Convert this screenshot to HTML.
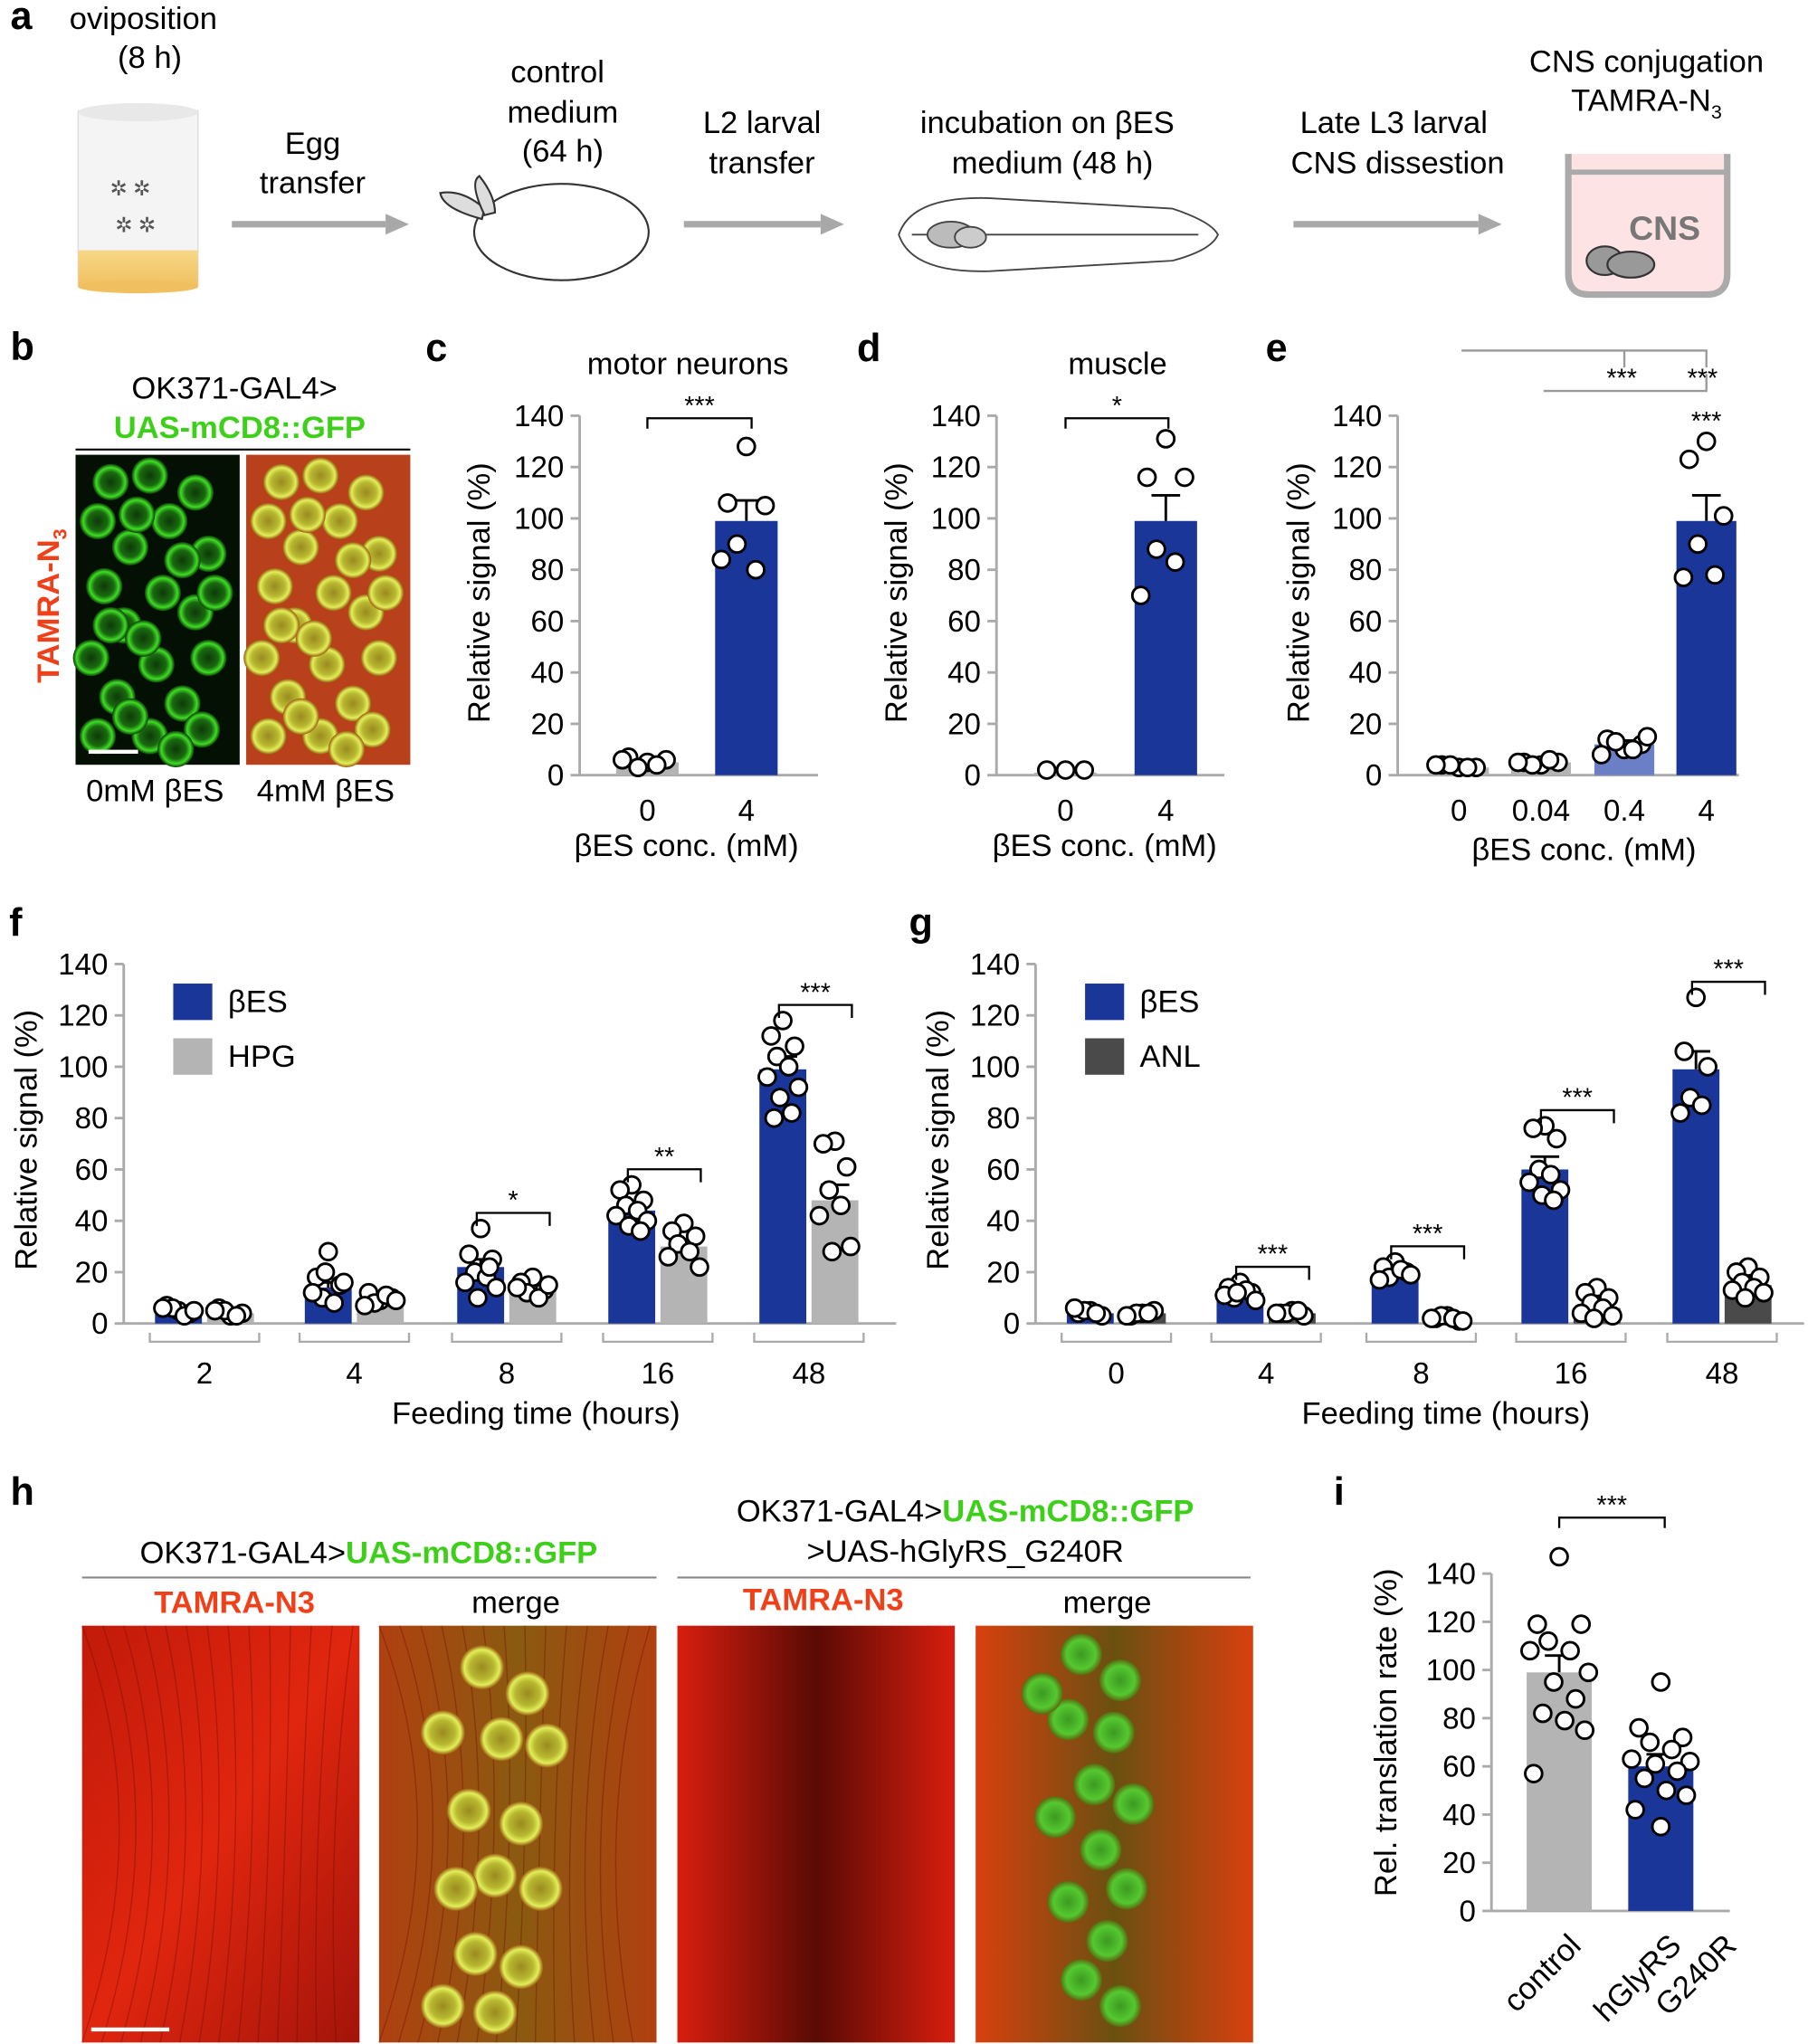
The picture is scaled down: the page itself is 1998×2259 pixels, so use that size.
<!DOCTYPE html>
<html><head><meta charset="utf-8">
<style>
html,body{margin:0;padding:0;background:#fff;}
svg{display:block;font-family:"Liberation Sans",sans-serif;}
</style></head>
<body>
<svg id="fig" width="1998" height="2259" viewBox="0 0 1388 1569" xmlns="http://www.w3.org/2000/svg">
<defs>
<radialGradient id="gcell" cx="50%" cy="50%" r="50%"><stop offset="0" stop-color="#0d3a08"/><stop offset="0.55" stop-color="#1a6a10"/><stop offset="0.8" stop-color="#3fdc25"/><stop offset="1" stop-color="#0a3a05"/></radialGradient>
<radialGradient id="ycell" cx="50%" cy="50%" r="50%"><stop offset="0" stop-color="#9a8a20"/><stop offset="0.55" stop-color="#b8b830"/><stop offset="0.8" stop-color="#e2ee5a"/><stop offset="1" stop-color="#9a5a10"/></radialGradient>
<radialGradient id="gcell2" cx="50%" cy="50%" r="50%"><stop offset="0" stop-color="#3c9a20"/><stop offset="0.7" stop-color="#55c830"/><stop offset="1" stop-color="#5a6a10"/></radialGradient>
<linearGradient id="redbg" x1="0" y1="0" x2="1" y2="1"><stop offset="0" stop-color="#c21a0a"/><stop offset="0.5" stop-color="#e0260f"/><stop offset="1" stop-color="#a3140a"/></linearGradient>
<linearGradient id="redbg2" x1="0" y1="0" x2="1" y2="0"><stop offset="0" stop-color="#d81e0e"/><stop offset="0.5" stop-color="#5a0a05"/><stop offset="1" stop-color="#d81e0e"/></linearGradient>
<linearGradient id="mergebg" x1="0" y1="0" x2="1" y2="0"><stop offset="0" stop-color="#b04010"/><stop offset="0.5" stop-color="#8a5a10"/><stop offset="1" stop-color="#b04010"/></linearGradient>
<linearGradient id="mergebg2" x1="0" y1="0" x2="1" y2="0"><stop offset="0" stop-color="#d8400f"/><stop offset="0.5" stop-color="#6a5010"/><stop offset="1" stop-color="#d8400f"/></linearGradient>
<linearGradient id="food" x1="0" y1="0" x2="0" y2="1"><stop offset="0" stop-color="#f7d887"/><stop offset="1" stop-color="#f0c060"/></linearGradient>
</defs>

<g font-size="24" text-anchor="middle" fill="#000">
  <text x="8" y="22" font-size="30" font-weight="bold" text-anchor="start">a</text>
  <text x="110" y="22">oviposition</text>
  <text x="115" y="52">(8 h)</text>
  <g>
    <rect x="60" y="85" width="92" height="135" fill="#f4f4f4" stroke="#ddd"/>
    <ellipse cx="106" cy="86" rx="46" ry="7" fill="#e8e8e8"/>
    <rect x="60" y="192" width="92" height="28" fill="url(#food)"/>
    <ellipse cx="106" cy="220" rx="46" ry="5" fill="#f0c060"/>
    <text x="100" y="150" font-size="16" fill="#555">✲ ✲</text><text x="104" y="178" font-size="16" fill="#555">✲ ✲</text>
  </g>
  <text x="240" y="118">Egg</text>
  <text x="240" y="148">transfer</text>
  <g><line x1="178" y1="172" x2="296" y2="172" stroke="#a8a8a8" stroke-width="5"/><polygon points="296,164 314,172 296,180" fill="#a8a8a8"/></g>
  <text x="428" y="63">control</text>
  <text x="432" y="94">medium</text>
  <text x="432" y="124">(64 h)</text>
  <g fill="#fff" stroke="#333" stroke-width="1.5">
    <ellipse cx="431" cy="178" rx="67" ry="37"/>
    <path d="M370 168 Q340 160 338 148 Q355 145 372 160 Z" fill="#ddd"/>
    <path d="M372 165 Q360 140 368 135 Q380 150 380 163Z" fill="#ddd"/>
  </g>
  <text x="585" y="102">L2 larval</text>
  <text x="585" y="133">transfer</text>
  <g><line x1="525" y1="172" x2="630" y2="172" stroke="#a8a8a8" stroke-width="5"/><polygon points="630,164 648,172 630,180" fill="#a8a8a8"/></g>
  <text x="804" y="102">incubation on βES</text>
  <text x="808" y="133">medium (48 h)</text>
  <g stroke="#444" fill="#fff" stroke-width="1.3">
    <path d="M690 180 Q700 150 760 152 L900 160 Q930 170 935 180 Q930 192 900 200 L760 208 Q700 210 690 180Z"/>
    <path d="M700 180 L920 180" fill="none"/>
    <ellipse cx="730" cy="180" rx="18" ry="10" fill="#bbb"/>
    <ellipse cx="745" cy="182" rx="12" ry="8" fill="#ccc"/>
  </g>
  <text x="1070" y="102">Late L3 larval</text>
  <text x="1073" y="133">CNS dissestion</text>
  <g><line x1="993" y1="172" x2="1135" y2="172" stroke="#a8a8a8" stroke-width="5"/><polygon points="1135,164 1153,172 1135,180" fill="#a8a8a8"/></g>
  <text x="1264" y="55">CNS conjugation</text>
  <text x="1264" y="85">TAMRA-N<tspan font-size="15" dy="6">3</tspan></text>
  <g>
    <path d="M1204 118 L1204 210 Q1204 226 1220 226 L1310 226 Q1326 226 1326 210 L1326 118" fill="#fde3e3" stroke="#aaa" stroke-width="5"/>
    <line x1="1204" y1="132" x2="1326" y2="132" stroke="#aaa" stroke-width="4"/>
    <text x="1278" y="184" font-size="26" font-weight="bold" fill="#777">CNS</text>
    <ellipse cx="1232" cy="200" rx="14" ry="11" fill="#999" stroke="#333" stroke-width="1.5"/>
    <ellipse cx="1252" cy="203" rx="18" ry="10" fill="#999" stroke="#333" stroke-width="1.5"/>
  </g>
</g>

<g font-size="24" text-anchor="middle">
  <text x="8" y="276" font-size="30" font-weight="bold" text-anchor="start">b</text>
  <text x="180" y="306">OK371-GAL4&gt;</text>
  <text x="184" y="336" fill="#3ecf1a" font-weight="bold">UAS-mCD8::GFP</text>
  <line x1="58" y1="345" x2="315" y2="345" stroke="#000" stroke-width="1.5"/>
  <text transform="translate(45,465) rotate(-90)" fill="#f0401a" font-weight="bold">TAMRA-N<tspan font-size="15" dy="6">3</tspan></text>
  <rect x="58" y="349" width="126" height="238" fill="#041004"/>
  <g id="bcells1"></g>
  <rect x="189" y="349" width="126" height="238" fill="#b8401a"/>
  <g id="bcells2"></g>
  <line x1="68" y1="577" x2="106" y2="577" stroke="#fff" stroke-width="3"/>
  <text x="119" y="615">0mM βES</text>
  <text x="250" y="615">4mM βES</text>
</g>

<g font-size="24" text-anchor="middle">
  <text x="8" y="1155" font-size="30" font-weight="bold" text-anchor="start">h</text>
  <text x="283" y="1200">OK371-GAL4&gt;<tspan fill="#3ecf1a" font-weight="bold">UAS-mCD8::GFP</tspan></text>
  <line x1="63" y1="1211" x2="504" y2="1211" stroke="#888" stroke-width="1.5"/>
  <text x="741" y="1168">OK371-GAL4&gt;<tspan fill="#3ecf1a" font-weight="bold">UAS-mCD8::GFP</tspan></text>
  <text x="741" y="1199">&gt;UAS-hGlyRS_G240R</text>
  <line x1="520" y1="1211" x2="960" y2="1211" stroke="#888" stroke-width="1.5"/>
  <text x="180" y="1238" fill="#f0401a" font-weight="bold">TAMRA-N3</text>
  <text x="396" y="1238">merge</text>
  <text x="632" y="1236" fill="#f0401a" font-weight="bold">TAMRA-N3</text>
  <text x="850" y="1238">merge</text>
  <rect x="63" y="1248" width="213" height="320" fill="url(#redbg)"/>
  <rect x="291" y="1248" width="213" height="320" fill="url(#mergebg)"/>
  <rect x="520" y="1248" width="213" height="320" fill="url(#redbg2)"/>
  <rect x="749" y="1248" width="213" height="320" fill="url(#mergebg2)"/>
  <g id="htex" stroke="#6a0a05" stroke-width="1" opacity="0.35" fill="none"></g>
  <g id="hcells"></g>
  <line x1="70" y1="1558" x2="130" y2="1558" stroke="#fff" stroke-width="3"/>
</g>

<g id="charts"></g>
</svg>

<script>
const cCats = ["0","4"];
const cMeans = [5, 99];
const cSems = [1, 8];
const cPts = [[5,7,6,3,4,6],[128,106,105,90,80,84]];

const dCats = ["0","4"];
const dMeans = [1, 99];
const dSems = [0.5, 10];
const dPts = [[2,2,2],[131,116,116,88,83,70]];

const eCats = ["0","0.04","0.4","4"];
const eMeans = [3, 5, 12, 99];
const eSems = [0.5, 0.6, 1.5, 10];
const ePts = [[3,4,3,4,3,4],[4,5,5,4,6,5],[10,14,12,13,10,8,15],[130,123,101,90,78,77]];

const fCats = ["2","4","8","16","48"];
const fBes = [4, 14, 22, 44, 99];
const fBesSem = [0.8, 2, 3, 3, 5];
const fHpg = [4, 9, 14, 30, 48];
const fHpgSem = [0.6, 0.8, 1.5, 2.5, 6];
const fBesPts = [[5,7,4,6,3,6,5],[28,18,15,10,8,12,16,20],[37,27,25,20,18,16,14,10,22],[54,52,48,46,44,42,40,38,36],[118,112,108,104,100,96,92,88,82,80]];
const fHpgPts = [[3,6,4,5,3,5],[9,12,10,8,11,7,9],[18,16,13,12,10,14,15],[39,36,34,31,28,26,22],[71,70,61,52,46,42,30,28]];

const gCats = ["0","4","8","16","48"];
const gBes = [4, 12, 19, 60, 99];
const gBesSem = [0.6, 1.2, 1.5, 5, 7];
const gAnl = [4, 4, 2, 6, 15];
const gAnlSem = [0.4, 0.4, 0.3, 1.2, 1.5];
const gBesPts = [[5,4,3,5,4,6],[16,14,12,10,13,11,9,12],[24,22,20,18,21,17,19],[77,76,72,60,58,55,52,50,48],[127,106,100,88,85,82]];
const gAnlPts = [[4,3,5,4,4,3],[5,4,3,4,5,4],[3,2,1,3,2,2,1],[14,12,10,8,6,4,3,2],[22,20,18,16,14,13,12,10]];

const iCats = ["control","hGlyRS G240R"];
const iMeans = [99, 60];
const iSems = [7, 5];
const iPts = [[147,119,119,112,108,108,99,95,88,82,79,75,57],[95,76,72,70,67,63,62,61,58,55,50,48,42,35]];

const yTicks = [0,20,40,60,80,100,120,140];

const NS = "http://www.w3.org/2000/svg";
const root = document.getElementById("charts");
function el(tag, attrs, parent, text){
  const e = document.createElementNS(NS, tag);
  for (const k in attrs) e.setAttribute(k, attrs[k]);
  if (text !== undefined) e.textContent = text;
  (parent || root).appendChild(e);
  return e;
}
const BLUE="#1b3699", GRAY="#b4b4b4", LBLUE="#6a7fc6", DGRAY="#4a4a4a";

function makeAxis(g, ax, y0, y140, xEnd, name){
  const ys = v => y0 - v*(y0-y140)/140;
  const yAx = el("line",{x1:ax,y1:y140,x2:ax,y2:y0,stroke:"#aaa","stroke-width":2},g);
  
  
  const xAx = el("line",{x1:ax,y1:y0,x2:xEnd,y2:y0,stroke:"#aaa","stroke-width":2},g);
  
  
  yTicks.forEach(t=>{
    el("line",{x1:ax-7,y1:ys(t),x2:ax,y2:ys(t),stroke:"#aaa","stroke-width":2},g);
    const tl = el("text",{x:ax-12,y:ys(t)+8,"font-size":23,"text-anchor":"end"},g,String(t));
    
    
  });
  return ys;
}
function bar(g, cx, w, v, ys, color, name){
  const r = el("rect",{x:cx-w/2,y:ys(v),width:w,height:ys(0)-ys(v),fill:color},g);
  
  
}
function err(g, cx, v, s, ys){
  const e = el("path",{d:`M${cx} ${ys(v)} V${ys(v+s)} M${cx-11} ${ys(v+s)} H${cx+11}`,stroke:"#000","stroke-width":2,fill:"none"},g);
  
  
}
const jit = [0,-12,12,-6,6,-16,16,-3,9,-9,3,14,-14,0];
function pts(g, cx, arr, ys, spread){
  arr.forEach((v,i)=>{
    const c = el("circle",{cx:cx+jit[i%jit.length]*spread,cy:ys(v),r:6.5,fill:"#fff",stroke:"#000","stroke-width":2},g);
    
    
  });
}
function sig(g, x1, x2, y, label, drop){
  const p = el("path",{d:`M${x1} ${y+drop} V${y} H${x2} V${y+drop}`,stroke:"#000","stroke-width":1.6,fill:"none"},g);
  
  
  const t = el("text",{x:(x1+x2)/2,y:y-3,"font-size":20,"text-anchor":"middle"},g,label);
  
  
}
function txt(g, x, y, s, size, name, extra){
  const a = Object.assign({x:x,y:y,"font-size":size,"text-anchor":"middle"}, extra||{});
  const t = el("text",a,g,s);
  
  
  return t;
}
function yTitle(g, x, y, s, name){
  const t = el("text",{transform:`translate(${x},${y}) rotate(-90)`,"font-size":24,"text-anchor":"middle"},g,s);
  
  
}

(function(){
  const g = el("g",{});
  
  
  txt(g, 335, 277, "c", 30, "panel-label-c", {"font-weight":"bold"});
  txt(g, 528, 287, "motor neurons", 24, "panel-c-title");
  const ys = makeAxis(g, 445, 595, 319, 628, "panel-c");
  const xs = [497, 573];
  cCats.forEach((c,i)=>{
    bar(g, xs[i], 48, cMeans[i], ys, i===0?GRAY:BLUE, "bar-c-"+c);
    err(g, xs[i], cMeans[i], cSems[i], ys);
    pts(g, xs[i], cPts[i], ys, 1.2);
    txt(g, xs[i], 630, c, 23, "panel-c-x-tick-label");
  });
  sig(g, 497, 577, ys(139), "***", 8);
  yTitle(g, 376, 455, "Relative signal (%)", "panel-c-y-title");
  txt(g, 527, 657, "βES conc. (mM)", 24, "panel-c-x-title");
})();

(function(){
  const g = el("g",{});
  
  
  txt(g, 667, 277, "d", 30, "panel-label-d", {"font-weight":"bold"});
  txt(g, 858, 287, "muscle", 24, "panel-d-title");
  const ys = makeAxis(g, 765, 595, 319, 940, "panel-d");
  const xs = [818, 895];
  dCats.forEach((c,i)=>{
    bar(g, xs[i], 48, dMeans[i], ys, i===0?GRAY:BLUE, "bar-d-"+c);
    err(g, xs[i], dMeans[i], dSems[i], ys);
    pts(g, xs[i], dPts[i], ys, 1.2);
    txt(g, xs[i], 630, c, 23, "panel-d-x-tick-label");
  });
  sig(g, 818, 897, ys(139), "*", 8);
  yTitle(g, 696, 455, "Relative signal (%)", "panel-d-y-title");
  txt(g, 848, 657, "βES conc. (mM)", 24, "panel-d-x-title");
})();

(function(){
  const g = el("g",{});
  
  
  txt(g, 980, 277, "e", 30, "panel-label-e", {"font-weight":"bold"});
  const ys = makeAxis(g, 1073, 595, 319, 1335, "panel-e");
  const xs = [1120, 1183, 1247, 1310];
  const cols = [GRAY, GRAY, LBLUE, BLUE];
  eCats.forEach((c,i)=>{
    bar(g, xs[i], 46, eMeans[i], ys, cols[i], "bar-e-"+c);
    err(g, xs[i], eMeans[i], eSems[i], ys);
    pts(g, xs[i], ePts[i], ys, 1.1);
    txt(g, xs[i], 630, c, 23, "panel-e-x-tick-label");
  });
  txt(g, 1310, 330, "***", 20, "significance-stars");
  const p1 = el("path",{d:"M1185 300 H1310 V287",stroke:"#999","stroke-width":1.6,fill:"none"},g);
  
  
  txt(g, 1245, 297, "***", 20, "significance-stars");
  txt(g, 1307, 297, "***", 20, "significance-stars");
  const p2 = el("path",{d:"M1122 269 H1310 V282 M1247 269 V282",stroke:"#999","stroke-width":1.6,fill:"none"},g);
  
  
  yTitle(g, 1005, 455, "Relative signal (%)", "panel-e-y-title");
  txt(g, 1216, 660, "βES conc. (mM)", 24, "panel-e-x-title");
})();

function groupChart(opts){
  const g = el("g",{});
  
  
  txt(g, opts.lx, 718, opts.letter, 30, "panel-label-"+opts.letter, {"font-weight":"bold"});
  const ys = makeAxis(g, opts.ax, 1016, 740, opts.xEnd, opts.name);
  opts.cats.forEach((c,i)=>{
    const cx = opts.xs[i];
    bar(g, cx-20, 36, opts.a[i], ys, BLUE, opts.name+"-bar-bes-"+c);
    err(g, cx-20, opts.a[i], opts.aSem[i], ys);
    pts(g, cx-20, opts.aPts[i], ys, 0.75);
    bar(g, cx+20, 36, opts.b[i], ys, opts.bColor, opts.name+"-bar-"+opts.bName+"-"+c);
    err(g, cx+20, opts.b[i], opts.bSem[i], ys);
    pts(g, cx+20, opts.bPts[i], ys, 0.75);
    const br = el("path",{d:`M${cx-42} 1023 V1030 H${cx+42} V1023`,stroke:"#aaa","stroke-width":1.6,fill:"none"},g);
    
    
    txt(g, cx, 1062, c, 23, opts.name+"-x-tick-label");
  });
  opts.sigs.forEach(s=>{
    const cx = opts.xs[s[0]];
    const top = Math.max(...opts.aPts[s[0]], ...opts.bPts[s[0]]);
    sig(g, cx-23, cx+33, ys(top)-12-s[2], s[1], 10);
  });
  const l1 = el("rect",{x:opts.ax+38,y:755,width:30,height:28,fill:BLUE},g);
  
  
  txt(g, opts.ax+80, 777, "βES", 24, "legend-label-bes", {"text-anchor":"start"});
  const l2 = el("rect",{x:opts.ax+38,y:797,width:30,height:28,fill:opts.bColor},g);
  
  
  txt(g, opts.ax+80, 819, opts.bLabel, 24, "legend-label-"+opts.bName, {"text-anchor":"start"});
  yTitle(g, opts.ax-67, 875, "Relative signal (%)", opts.name+"-y-title");
  txt(g, (opts.ax+opts.xEnd)/2+20, 1093, "Feeding time (hours)", 24, opts.name+"-x-title");
}
groupChart({name:"panel-f",letter:"f",lx:12,ax:95,xEnd:688,xs:[157,272,389,505,621],cats:fCats,
  a:fBes,aSem:fBesSem,aPts:fBesPts,b:fHpg,bSem:fHpgSem,bPts:fHpgPts,bColor:GRAY,bName:"hpg",bLabel:"HPG",
  sigs:[[2,"*",0],[3,"**",0],[4,"***",0]]});
groupChart({name:"panel-g",letter:"g",lx:707,ax:795,xEnd:1385,xs:[857,972,1091,1206,1322],cats:gCats,
  a:gBes,aSem:gBesSem,aPts:gBesPts,b:gAnl,bSem:gAnlSem,bPts:gAnlPts,bColor:DGRAY,bName:"anl",bLabel:"ANL",
  sigs:[[1,"***",0],[2,"***",0],[3,"***",0],[4,"***",0]]});

(function(){
  const g = el("g",{});
  
  
  txt(g, 1028, 1155, "i", 30, "panel-label-i", {"font-weight":"bold"});
  const ys = makeAxis(g, 1145, 1467, 1208, 1328, "panel-i");
  const xs = [1197, 1275];
  const cols = [GRAY, BLUE];
  iCats.forEach((c,i)=>{
    bar(g, xs[i], 50, iMeans[i], ys, cols[i], "bar-i-"+i);
    err(g, xs[i], iMeans[i], iSems[i], ys);
    pts(g, xs[i], iPts[i], ys, 1.4);
  });
  sig(g, 1197, 1278, 1165, "***", 8);
  const t1 = el("text",{transform:"translate(1215,1495) rotate(-45)","font-size":24,"text-anchor":"end"},g,"control");
  
  
  const t2 = el("text",{transform:"translate(1292,1495) rotate(-45)","font-size":24,"text-anchor":"end"},g);
  
  
  el("tspan",{x:0,dy:0},t2,"hGlyRS");
  el("tspan",{x:30,dy:30},t2,"G240R");
  yTitle(g, 1072, 1330, "Rel. translation rate (%)", "panel-i-y-title");
})();

(function(){
  const b1 = document.getElementById("bcells1"), b2 = document.getElementById("bcells2");
  const cellsB = [[85,370],[115,365],[150,378],[75,400],[130,400],[100,420],[160,425],[80,450],[125,455],[150,470],[95,480],[70,505],[120,510],[160,505],[90,535],[140,540],[75,565],[115,565],[155,560],[105,395],[165,455],[85,480],[140,430],[110,490],[135,575],[100,550]];
  cellsB.forEach(p=>{
    el("circle",{cx:p[0],cy:p[1],r:14,fill:"url(#gcell)"},b1);
    el("circle",{cx:p[0]+131,cy:p[1],r:14,fill:"url(#ycell)"},b2);
  });
  const tex = document.getElementById("htex");
  for (let k=0;k<14;k++){
    el("path",{d:`M${63+k*16} 1248 Q${120+k*10} 1400 ${63+k*15} 1568`},tex);
    el("path",{d:`M${291+k*16} 1248 Q${350+k*8} 1400 ${291+k*15} 1568`},tex);
  }
  const h = document.getElementById("hcells");
  const cellsH = [[370,1280],[405,1300],[340,1330],[385,1335],[420,1340],[360,1390],[400,1400],[380,1440],[350,1450],[415,1450],[365,1500],[400,1510],[380,1545],[340,1540]];
  cellsH.forEach(p=>{
    el("circle",{cx:p[0],cy:p[1],r:17,fill:"url(#ycell)"},h);
  });
  const cellsH2 = [[830,1270],[860,1290],[820,1320],[855,1330],[840,1370],[870,1385],[810,1395],[845,1420],[865,1450],[820,1460],[850,1490],[830,1520],[860,1540],[800,1300]];
  cellsH2.forEach(p=>{
    el("circle",{cx:p[0],cy:p[1],r:16,fill:"url(#gcell2)"},h);
  });
})();
</script>
</body></html>
